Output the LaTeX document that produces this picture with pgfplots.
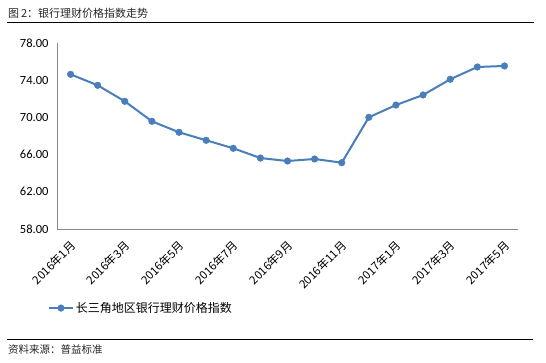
\documentclass[border=0pt]{standalone}
\usepackage{pgfplots}
\pgfplotsset{compat=1.18}
\usepackage{fontspec}
\setmainfont{Carlito}
\newfontfamily\cjk{Noto Sans CJK SC}
\definecolor{linec}{HTML}{4A7EBB}
\definecolor{axisgray}{HTML}{898989}
\pgfplotstableread{
idx val
0 74.63
1 73.45
2 71.73
3 69.58
4 68.40
5 67.54
6 66.68
7 65.63
8 65.31
9 65.53
10 65.13
11 70.01
12 71.33
13 72.41
14 74.10
15 75.42
16 75.53
}\datatable
\begin{document}
\begin{tikzpicture}
\begin{axis}[
  at={(57pt,-229pt)}, anchor=south west,
  scale only axis, width=461pt, height=186pt,
  xmin=-0.5, xmax=16.5, ymin=58, ymax=78,
  axis x line=bottom, axis y line=left,
  axis line style={axisgray, line width=0.9pt, -},
  ytick={58,62,66,70,74,78},
  yticklabel={\pgfmathprintnumber[fixed,fixed zerofill,precision=2]{\tick}},
  /pgf/number format/assume math mode=true,
  xtick={0,2,4,6,8,10,12,14,16},
  xticklabels={2016年1月,2016年3月,2016年5月,2016年7月,2016年9月,2016年11月,2017年1月,2017年3月,2017年5月},
  major tick length=0pt,
  yticklabel style={font=\fontsize{12.5}{13}\selectfont, xshift=-5pt},
  xticklabel style={font=\cjk\fontsize{11.5}{12}\selectfont, xshift=-1pt, yshift=-9pt, rotate=45, anchor=north east, inner sep=1pt},
  legend style={at={(-0.02,-0.425)}, anchor=west, draw=none, fill=none,
    font=\cjk\fontsize{12}{13}\selectfont, inner sep=0pt},
  legend image code/.code={\draw[mark repeat=2,mark phase=2,#1] plot coordinates {(0pt,0pt) (12pt,0pt) (24pt,0pt)};},
  clip=false,
]
\addplot[linec, line width=2pt, mark=*, mark size=3.3pt, mark options={fill=linec, draw=linec, line width=0.5pt}] table[x=idx, y=val] {\datatable};
\addlegendentry{长三角地区银行理财价格指数}
\end{axis}
\node[anchor=west, font=\cjk\fontsize{11}{12}\selectfont, text=black!85, inner sep=0pt] at (8pt,-13pt) {图\,2：银行理财价格指数走势};
\draw[line width=0.8pt] (7pt,-22pt) -- (534pt,-22pt);
\draw[line width=0.8pt] (7pt,-339pt) -- (533pt,-339pt);
\node[anchor=west, font=\cjk\fontsize{10.5}{11}\selectfont, text=black!85, inner sep=0pt] at (8pt,-350pt) {资料来源：普益标准};
\pgfresetboundingbox
\useasboundingbox (0pt,0pt) rectangle (546pt,-363pt);
\end{tikzpicture}
\end{document}
